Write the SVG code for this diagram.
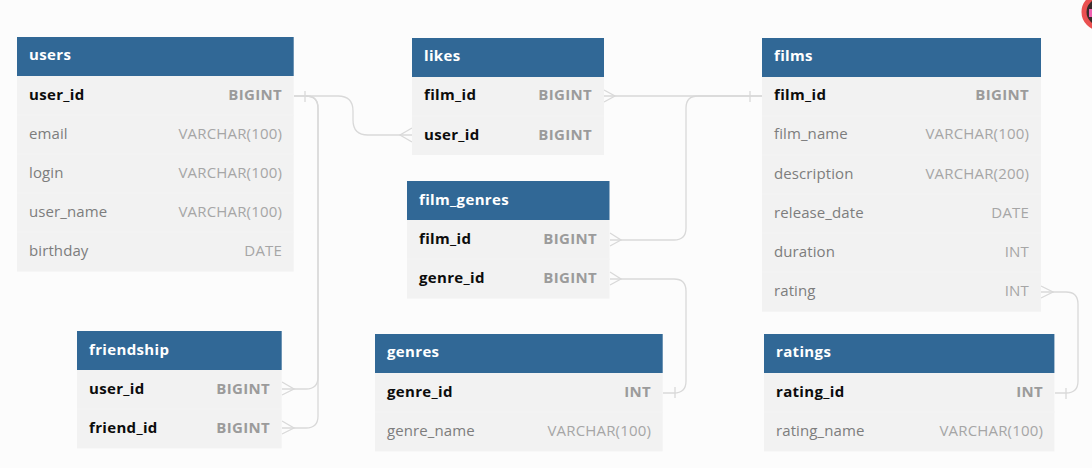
<svg xmlns="http://www.w3.org/2000/svg" width="1092" height="468" viewBox="0 0 1092 468">
<style>
text{font-family:"Open Sans","Noto Sans","DejaVu Sans",sans-serif;font-size:15px}
.h{fill:#316896}.b{fill:#f2f2f2}.sep{stroke:#f4f4f4;stroke-width:1}
.t{fill:#fff;font-weight:700;letter-spacing:.35px}.k{fill:#0c0c0c;font-weight:700;letter-spacing:.33px}.n{fill:#7d7d7d;letter-spacing:.1px}
.kt{fill:#9b9b9b;font-weight:700;text-anchor:end;letter-spacing:.33px}.nt{fill:#a6a6a6;text-anchor:end;letter-spacing:.17px}
#connectors path{fill:none;stroke:#d9d9d9;stroke-width:1.3}
</style>
<rect width="1092" height="468" fill="#fcfcfc"/>
<g id="avatar"><circle cx="1100" cy="12" r="16" fill="#3a2a2a" stroke="#ea5050" stroke-width="5"/><rect x="1089" y="9" width="5" height="8" fill="#f060b0"/></g>
<g id="connectors">
<path d="M294 96H338Q353 96 353 111V120Q353 135 368 135H412"/>
<path d="M305 91V102M412 128L400 135L412 142"/>
<path d="M294 96H306Q318 96 318 108V377Q318 389 306 389H282"/>
<path d="M306 96Q318 96 318 108V416Q318 428 306 428H282"/>
<path d="M282 382L294 389L282 395M282 421L294 428L282 434"/>
<path d="M604 96H762"/>
<path d="M604 90L615 96L604 102M750 91V102"/>
<path d="M610 240H674Q686 240 686 228V108Q686 96 698 96H762"/>
<path d="M610 233L621 240L610 246"/>
<path d="M610 279H674Q686 279 686 291V381Q686 393 674 393H663"/>
<path d="M610 272L621 279L610 285M675 387V398"/>
<path d="M1041 292H1066Q1078 292 1078 304V381Q1078 393 1066 393H1055"/>
<path d="M1041 286L1053 292L1041 298M1066 388V399"/>
</g>
<g id="users">
<rect class="b" x="17" y="76" width="276.7" height="195.6"/><rect class="h" x="17" y="37" width="276.7" height="39"/>
<path class="sep" d="M17 115H294M17 154H294M17 193H294M17 232H294"/>
<text class="t" x="29" y="60">users</text>
<text class="k" x="29" y="100">user_id</text><text class="kt" x="282" y="100">BIGINT</text>
<text class="n" x="29" y="139">email</text><text class="nt" x="282" y="139">VARCHAR(100)</text>
<text class="n" x="29" y="178">login</text><text class="nt" x="282" y="178">VARCHAR(100)</text>
<text class="n" x="29" y="217">user_name</text><text class="nt" x="282" y="217">VARCHAR(100)</text>
<text class="n" x="29" y="256">birthday</text><text class="nt" x="282" y="256">DATE</text>
</g>
<g id="likes">
<rect class="b" x="412" y="77" width="192" height="78"/><rect class="h" x="412" y="38" width="192" height="39"/>
<path class="sep" d="M412 116H604"/>
<text class="t" x="424" y="61">likes</text>
<text class="k" x="424" y="100">film_id</text><text class="kt" x="592" y="100">BIGINT</text>
<text class="k" x="424" y="140">user_id</text><text class="kt" x="592" y="140">BIGINT</text>
</g>
<g id="film_genres">
<rect class="b" x="407" y="220" width="202.5" height="78.6"/><rect class="h" x="407" y="181" width="202.5" height="39"/>
<path class="sep" d="M407 259H610"/>
<text class="t" x="419" y="205">film_genres</text>
<text class="k" x="419" y="244">film_id</text><text class="kt" x="597" y="244">BIGINT</text>
<text class="k" x="419" y="283">genre_id</text><text class="kt" x="597" y="283">BIGINT</text>
</g>
<g id="films">
<rect class="b" x="762" y="77" width="279" height="234.7"/><rect class="h" x="762" y="38" width="279" height="39"/>
<path class="sep" d="M762 116H1041M762 155H1041M762 194H1041M762 233H1041M762 272H1041"/>
<text class="t" x="774" y="61">films</text>
<text class="k" x="774" y="100">film_id</text><text class="kt" x="1029" y="100">BIGINT</text>
<text class="n" x="774" y="139">film_name</text><text class="nt" x="1029" y="139">VARCHAR(100)</text>
<text class="n" x="774" y="179">description</text><text class="nt" x="1029" y="179">VARCHAR(200)</text>
<text class="n" x="774" y="218">release_date</text><text class="nt" x="1029" y="218">DATE</text>
<text class="n" x="774" y="257">duration</text><text class="nt" x="1029" y="257">INT</text>
<text class="n" x="774" y="296">rating</text><text class="nt" x="1029" y="296">INT</text>
</g>
<g id="friendship">
<rect class="b" x="77" y="370" width="204.7" height="78.4"/><rect class="h" x="77" y="331" width="204.7" height="39"/>
<path class="sep" d="M77 409H282"/>
<text class="t" x="89" y="355">friendship</text>
<text class="k" x="89" y="394">user_id</text><text class="kt" x="270" y="394">BIGINT</text>
<text class="k" x="89" y="433">friend_id</text><text class="kt" x="270" y="433">BIGINT</text>
</g>
<g id="genres">
<rect class="b" x="375" y="373" width="287.7" height="78.4"/><rect class="h" x="375" y="334" width="287.7" height="39"/>
<path class="sep" d="M375 412H663"/>
<text class="t" x="387" y="357">genres</text>
<text class="k" x="387" y="397">genre_id</text><text class="kt" x="651" y="397">INT</text>
<text class="n" x="387" y="436">genre_name</text><text class="nt" x="651" y="436">VARCHAR(100)</text>
</g>
<g id="ratings">
<rect class="b" x="764" y="373" width="290.4" height="78.4"/><rect class="h" x="764" y="334" width="290.4" height="39"/>
<path class="sep" d="M764 412H1055"/>
<text class="t" x="776" y="357">ratings</text>
<text class="k" x="776" y="397">rating_id</text><text class="kt" x="1043" y="397">INT</text>
<text class="n" x="776" y="436">rating_name</text><text class="nt" x="1043" y="436">VARCHAR(100)</text>
</g>
</svg>
